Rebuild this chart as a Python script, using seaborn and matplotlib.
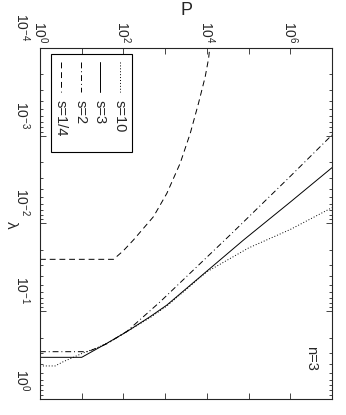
import math
import matplotlib
matplotlib.use("Agg")
import matplotlib.pyplot as plt
import matplotlib.ticker as mticker
import matplotlib.transforms as mtransforms
from matplotlib.patches import Rectangle
import seaborn as sns

# values (P on the horizontal axis, lambda downwards)
P_s10 = [1, 2.3, 3.6, 6.3, 10.7, 23, 48, 120, 440, 1100, 1e4, 1e5, 1e6, 1e7]
lam_s10 = [0.42, 0.42, 0.376, 0.335, 0.299, 0.262, 0.222, 0.171, 0.118, 0.087, 0.0355, 0.019, 0.0117, 0.0066]

P_s3 = [1, 10, 40, 120, 440, 1100, 7.6e4, 1e6, 1e7]
lam_s3 = [0.335, 0.335, 0.232, 0.171, 0.115, 0.085, 0.0154, 0.0057, 0.00231]

P_s2 = [1, 14, 40, 120, 760, 4e4, 1e6, 1e7]
lam_s2 = [0.289, 0.289, 0.235, 0.17, 0.078, 0.0129, 0.0029, 0.00098]

P_s14 = [1, 58, 100, 174, 525, 1100, 2290, 4000, 6300, 9100, 11000, 11700]
lam_s14 = [0.0256, 0.0256, 0.0204, 0.0154, 0.00836, 0.00453, 0.00206, 0.000938,
           0.000427, 0.000214, 0.000132, 0.0001]

series = [
    ("s=10", P_s10, lam_s10, (0, (1, 2))),
    ("s=3", P_s3, lam_s3, "-"),
    ("s=2", P_s2, lam_s2, (0, (6, 3, 1, 3))),
    ("s=1/4", P_s14, lam_s14, (0, (6, 4))),
]

P_ticks = [1e0, 1e1, 1e2, 1e3, 1e4, 1e5, 1e6, 1e7]
lam_ticks = [1e-4, 1e-3, 1e-2, 1e-1, 1e0]

sns.set_style("ticks")
plt.rcParams['font.family'] = ['Liberation Sans', 'DejaVu Sans']
plt.rcParams['mathtext.fontset'] = 'custom'
plt.rcParams['mathtext.rm'] = 'Liberation Sans'
plt.rcParams['mathtext.it'] = 'Liberation Sans:italic'

W, H = 346, 415
fig = plt.figure(figsize=(W / 100, H / 100), dpi=100)
x0, x1, y0, y1 = 40, 332, 48, 399
ax = fig.add_axes([x0 / W, 1 - y1 / H, (x1 - x0) / W, (y1 - y0) / H])

for name, P, lam, ls in series:
    sns.lineplot(x=P, y=lam, ax=ax, color='k', lw=0.7, linestyle=ls,
                 estimator=None, sort=False)

ax.set_xscale('log')
ax.set_yscale('log')
ax.set_xlim(1, 1e7)
ax.set_ylim(1, 1e-4)

ax.xaxis.tick_top()
ax.xaxis.set_label_position('top')
ax.xaxis.set_major_locator(mticker.FixedLocator(P_ticks))
ax.xaxis.set_minor_locator(mticker.NullLocator())
ax.xaxis.set_major_formatter(mticker.FuncFormatter(
    lambda v, pos: '$10^{%d}$' % round(math.log10(v)) if round(math.log10(v)) % 2 == 0 else ''))
ax.yaxis.set_major_locator(mticker.FixedLocator(lam_ticks))
ax.yaxis.set_minor_locator(mticker.LogLocator(base=10, subs=range(2, 10)))
ax.yaxis.set_major_formatter(mticker.NullFormatter())
ax.yaxis.set_minor_formatter(mticker.NullFormatter())

ax.tick_params(which='both', direction='in', top=True, bottom=True, left=True, right=True,
               width=0.6, labelsize=10)
ax.tick_params(which='major', length=4)
ax.tick_params(which='minor', length=2)
for lab in ax.get_xticklabels():
    lab.set_rotation(-90)
for sp in ax.spines.values():
    sp.set_linewidth(0.8)

# lambda tick labels sit just above their ticks in the reference
ytrans = mtransforms.blended_transform_factory(ax.transAxes, ax.transData)
shift = mtransforms.ScaledTranslation(0, 7 / 100, fig.dpi_scale_trans)
for v in lam_ticks:
    ax.text(-0.03, v, '$10^{%d}$' % round(math.log10(v)), transform=ytrans + shift,
            rotation=-90, ha='right', va='bottom', fontsize=10)

ax.set_xlabel('P', fontsize=13, labelpad=4)
ax.text(-0.1, 0.495, 'λ', transform=ax.transAxes, rotation=-90, ha='center',
        va='center', fontsize=11)

# legend drawn sideways, like the rest of the figure
def px(x, y):
    return (x - x0) / (x1 - x0), (y1 - y) / (y1 - y0)

bx, by = px(50.7, 151.7)
bx2, by2 = px(131.7, 54)
ax.add_patch(Rectangle((bx, by), bx2 - bx, by2 - by, transform=ax.transAxes,
                       facecolor='white', edgecolor='k', lw=0.8, zorder=5))
for (name, P, lam, ls), xc in zip(series, [120, 100, 80.7, 60.7]):
    xa, ya = px(xc, 62)
    _, yb = px(xc, 92)
    ax.plot([xa, xa], [ya, yb], transform=ax.transAxes, color='k', lw=0.7,
            linestyle=ls, zorder=6)
    _, yt = px(xc, 100)
    ax.text(xa, yt, name, transform=ax.transAxes, rotation=-90, ha='center',
            va='top', fontsize=10.5, zorder=6)

tx, ty = px(311, 358)
ax.text(tx, ty, 'n=3', transform=ax.transAxes, rotation=-90, ha='center',
        va='center', fontsize=10.5)

fig.savefig('out.png', dpi=100)
